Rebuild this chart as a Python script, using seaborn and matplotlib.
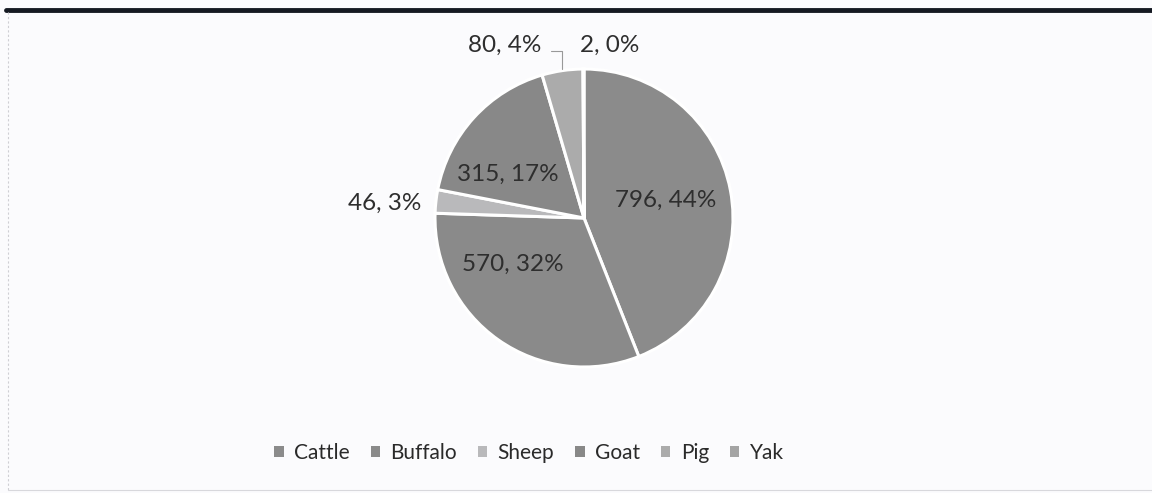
import numpy as np
import matplotlib
matplotlib.use("Agg")
import matplotlib.pyplot as plt
import seaborn as sns

# values
animals = ["Cattle", "Buffalo", "Sheep", "Goat", "Pig", "Yak"]
counts = [796, 570, 46, 315, 80, 2]
percents = [44, 32, 3, 17, 4, 0]
colors = ["#8b8b8b", "#8a8a8a", "#b9b9bb", "#888888", "#ababab", "#a4a4a4"]

# label spots in pie units (x, y), pie radius = 1
label_xy = [(0.55, 0.12), (-0.48, -0.31), (-1.34, 0.10), (-0.51, 0.29), (-0.53, 1.16), (0.17, 1.16)]

sns.set_theme(style="white")
plt.rcParams["font.family"] = ["Lato", "DejaVu Sans"]

fig = plt.figure(figsize=(11.52, 4.93), dpi=100)
fig.patch.set_facecolor("#fbfbfd")

# pie axes: centre ~ (584, 218) px, radius ~149 px
cx, cy, r = 584, 218, 149
ax = fig.add_axes([(cx - r) / 1152, (493 - cy - r) / 493, 2 * r / 1152, 2 * r / 493])
ax.set_facecolor("none")

wedges, _ = ax.pie(counts, colors=colors, startangle=90, counterclock=False,
                   radius=1, wedgeprops=dict(edgecolor="white", linewidth=2.2))
ax.set_xlim(-1, 1)
ax.set_ylim(-1, 1)
ax.set_aspect("equal")
ax.axis("off")

for (x, y), n, p in zip(label_xy, counts, percents):
    ax.text(x, y, f"{n}, {p}%", ha="center", va="center", fontsize=17.5,
            color="#2e2e2e", clip_on=False)

# leader line for the Pig label
ax.plot([-0.22, -0.15, -0.15], [1.12, 1.12, 1.0], color="#999999", lw=0.8, clip_on=False)

leg = fig.legend(wedges, animals, loc="center", bbox_to_anchor=(529 / 1152, 1 - 453 / 493),
                 ncol=6, frameon=False, fontsize=15, handlelength=0.45, handleheight=0.45,
                 handletextpad=0.5, columnspacing=1.0, labelcolor="#2a2a2a")
for h in leg.legend_handles:
    h.set_linewidth(0)

# scanned frame: heavy top rule and faint left/bottom edge
fig.add_artist(plt.Line2D([6 / 1152, 1], [1 - 10 / 493, 1 - 10 / 493], color="#151a22", lw=3.5))
fig.add_artist(plt.Line2D([8 / 1152, 8 / 1152], [1 - 12 / 493, 1 - 490 / 493],
                          color="#cfcfd4", lw=0.8, ls=(0, (2, 2))))
fig.add_artist(plt.Line2D([8 / 1152, 1], [1 - 490 / 493, 1 - 490 / 493], color="#d8d8dc", lw=0.8))

fig.savefig("out.png", dpi=100, facecolor=fig.get_facecolor())
